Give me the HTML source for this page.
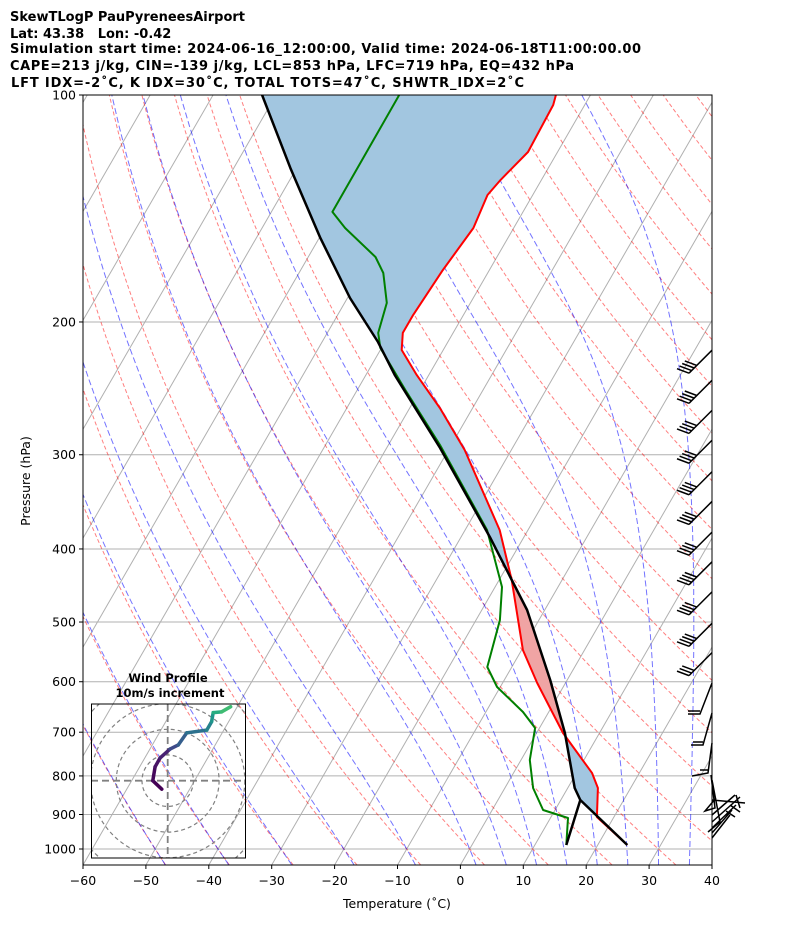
<!DOCTYPE html>
<html><head><meta charset="utf-8"><style>
body{margin:0;background:#fff;}
svg{display:block;font-family:"DejaVu Sans","Liberation Sans",sans-serif;}
</style></head><body>
<svg id="chart" width="794" height="937" viewBox="0 0 794 937" xmlns="http://www.w3.org/2000/svg">
<defs><clipPath id="clip"><rect x="83" y="95" width="629" height="770"/></clipPath>
<clipPath id="hclip"><rect x="91.5" y="704" width="154" height="154"/></clipPath></defs>
<g font-weight="bold" font-size="13" fill="#000">
<text x="10" y="21">SkewTLogP PauPyreneesAirport</text>
<text x="10" y="38" xml:space="preserve">Lat: 43.38   Lon: -0.42</text>
<text x="10" y="53" textLength="631">Simulation start time: 2024-06-16_12:00:00, Valid time: 2024-06-18T11:00:00.00</text>
<text x="10" y="70" textLength="564">CAPE=213 j/kg, CIN=-139 j/kg, LCL=853 hPa, LFC=719 hPa, EQ=432 hPa</text>
<text x="11" y="87" textLength="513">LFT IDX=-2˚C, K IDX=30˚C, TOTAL TOTS=47˚C, SHWTR_IDX=2˚C</text>
</g>
<g id="plot" clip-path="url(#clip)"></g>
<g id="axes"></g>
<g id="barbs"></g>
<g id="hodo"></g>
</svg>
<script>
// ---- data ----
const tempP = [987.9,907,830.1,793,701.8,602.3,544.6,439.8,413.7,377.6,295.7,260.1,235.2,217.9,206.8,195.7,170.7,150.1,135.7,129.6,119,103.1,100];
const tempT = [24.7,17.3,14.8,12.5,4.2,-4.5,-9.8,-18.0,-20.6,-24.5,-37.4,-45.2,-51.9,-56.6,-58.0,-58.0,-57.4,-56.4,-57.2,-56.5,-54.7,-55.0,-55.5];
const dewP = [987.9,909.8,887.8,830.1,762.1,691.1,658.1,609.7,573.6,497,449.3,377.6,291.2,246,216.5,206.8,188.7,172.2,164,150.1,142.9,100];
const dewT = [15.0,12.8,8.1,4.5,1.4,-0.7,-4.1,-10.5,-13.9,-16.2,-18.9,-26.5,-41.8,-52.4,-60.2,-61.9,-63.3,-66.6,-69.3,-76.8,-80.3,-80.4];
const parcelP = [987.9,861,830.1,701.8,596.9,482,385.8,293.9,235.2,212.6,185.9,154.8,125,100];
const parcelT = [24.7,13.1,11.1,4.5,-2.7,-12.8,-25.4,-41.5,-55.4,-61.1,-69.6,-79.8,-91.0,-102.2];
const pTicks = [100,200,300,400,500,600,700,800,900,1000];
const tTicks = [-60,-50,-40,-30,-20,-10,0,10,20,30,40];
const dryTheta = [-50,-40,-30,-20,-10,0,10,20,30,40,50,60,70,80,90,100,110,120,130,140,150,160,170,180,190,200];
const moistT0 = [-50,-40,-30,-20,-10,0,5,10,15,20,25,30,35,40,45];
const barbP = [218,239,262,287,316,346,380,416,456,502,549];
const barbN = [4,4,4,4,4,4,4,4,4,4,3];
const hodoU = [-2.3,-5.8,-4.9,-3.0,0.9,4.1,7.4,15.2,17.1,17.7,21,24.5];
const hodoV = [-3.3,0,5.4,8.8,12.3,13.9,18.6,19.7,23,26.5,26.8,28.8];

const NS="http://www.w3.org/2000/svg";
const Y = p => 95 + 754*(Math.log10(p)-2);
const X = (T,p) => 83 + (T+60)*6.29 + (865-Y(p))*0.57735;
function mk(tag, attrs, parent){const e=document.createElementNS(NS,tag);for(const k in attrs)e.setAttribute(k,attrs[k]);parent.appendChild(e);return e;}
const plot=document.getElementById('plot'), axes=document.getElementById('axes');
const pathOf = pts => 'M'+pts.map(q=>q[0].toFixed(1)+','+q[1].toFixed(1)).join('L');
const pLevels=[];for(let i=0;i<=80;i++)pLevels.push(1050*Math.pow(100/1050,i/80));

for(let T=-160;T<=40;T+=10){
  const e=mk('line',{x1:X(T,1050),y1:Y(1050),x2:X(T,100),y2:Y(100),stroke:'#b0b0b0','stroke-width':1},plot);
  
  
}
pTicks.forEach(p=>{
  const e=mk('line',{x1:83,x2:712,y1:Y(p),y2:Y(p),stroke:'#b0b0b0','stroke-width':1},plot);
  
  
});
dryTheta.forEach(th=>{
  const pts=pLevels.map(p=>[X((th+273.15)*Math.pow(p/1000,0.2857)-273.15,p),Y(p)]);
  const e=mk('path',{d:pathOf(pts),fill:'none',stroke:'#ff0000','stroke-opacity':0.5,'stroke-width':1,'stroke-dasharray':'4,2.5'},plot);
  
  
});
function moistSlope(T,p){const Tc=T-273.15;const es=6.112*Math.exp(17.67*Tc/(Tc+243.5));const rs=0.622*es/(p-es);
  return (287*T+2.501e6*rs)/(1005+2.501e6*2.501e6*rs*0.622/(287*T*T))/p;}
function moistProfile(t0){
  let T=t0+273.15,p=1000;const dp=-2;
  const up=[[p,T]];while(p>100){T+=moistSlope(T,p)*dp;p+=dp;up.push([p,T]);}
  T=t0+273.15;p=1000;const dn=[];while(p<1050){T+=moistSlope(T,p)*2;p+=2;dn.unshift([p,T]);}
  return dn.concat(up);
}
moistT0.forEach(t0=>{
  const pts=moistProfile(t0).filter((q,i)=>i%5==0).map(q=>[X(q[1]-273.15,q[0]),Y(q[0])]);
  const e=mk('path',{d:pathOf(pts),fill:'none',stroke:'#0000ff','stroke-opacity':0.55,'stroke-width':1,'stroke-dasharray':'6,3'},plot);
  
  
});
function interp(P,T,p){
  for(let i=0;i<P.length-1;i++){
    if(p<=P[i]&&p>=P[i+1]){const f=(Math.log(P[i])-Math.log(p))/(Math.log(P[i])-Math.log(P[i+1]));return T[i]+f*(T[i+1]-T[i]);}
  }
  return null;
}
const fp=[];for(let i=0;i<=400;i++)fp.push(987.9*Math.pow(100/987.9,i/400));
for(let i=0;i<fp.length-1;i++){
  const a=fp[i],b=fp[i+1];
  const ta=interp(tempP,tempT,a),tb=interp(tempP,tempT,b),pa=interp(parcelP,parcelT,a),pb=interp(parcelP,parcelT,b);
  if(ta==null||tb==null||pa==null||pb==null)continue;
  const pos=(pa+pb-ta-tb)>0;
  const c=pos?'#f0a4a4':'#a2c6e0';
  const e=mk('polygon',{points:[[X(ta,a),Y(a)],[X(tb,b),Y(b)],[X(pb,b),Y(b)],[X(pa,a),Y(a)]].map(q=>q.join(',')).join(' '),
    fill:c,stroke:c,'stroke-width':0.6},plot);
  
  
}
function profile(P,T,color,w,name){
  const e=mk('path',{d:pathOf(P.map((p,i)=>[X(T[i],p),Y(p)])),fill:'none',stroke:color,'stroke-width':w,'stroke-linejoin':'round'},plot);
  
  
}
profile(tempP,tempT,'#ff0000',2,'temperature-line');
profile(dewP,dewT,'#008000',2,'dewpoint-line');
profile(parcelP,parcelT,'#000000',2.5,'parcel-line');
{const e=mk('path',{d:pathOf([[X(dewT[0],dewP[0]),Y(dewP[0])],[X(parcelT[1],parcelP[1]),Y(parcelP[1])]]),fill:'none',stroke:'#000','stroke-width':2.5},plot);

}

{const e=mk('rect',{x:83,y:95,width:629,height:770,fill:'none',stroke:'#000','stroke-width':1},axes);

}
pTicks.forEach(p=>{
  mk('line',{x1:79,x2:83,y1:Y(p),y2:Y(p),stroke:'#000'},axes);
  const t=mk('text',{x:76,y:Y(p)+4.5,'text-anchor':'end','font-size':12.5},axes);t.textContent=p;
  
  
});
tTicks.forEach(T=>{
  const x=83+(T+60)*6.29;
  mk('line',{x1:x,x2:x,y1:865,y2:869,stroke:'#000'},axes);
  const t=mk('text',{x:x,y:885,'text-anchor':'middle','font-size':12.5},axes);t.textContent=(T<0?'\u2212'+(-T):T);
  
  
});
{const t=mk('text',{x:397,y:908,'text-anchor':'middle','font-size':12.5},axes);t.textContent='Temperature (˚C)';


const t2=mk('text',{x:30,y:481,'text-anchor':'middle','font-size':12.5,transform:'rotate(-90 30 481)'},axes);t2.textContent='Pressure (hPa)';

}

const bg=document.getElementById('barbs');
barbP.forEach((p,i)=>{
  const y=Y(p);const x0=712,y0=y, x1=689,y1=y+23;
  const g=mk('g',{stroke:'#000','stroke-width':1.5,fill:'none'},bg);
  
  
  mk('line',{x1:x0,y1:y0,x2:x1,y2:y1},g);
  for(let k=0;k<barbN[i];k++){const bx=x1+k*2.6,by=y1-k*2.6;mk('line',{x1:bx,y1:by,x2:bx-12,y2:by-4.5},g);}
});
{const g=mk('g',{stroke:'#000','stroke-width':1.5,fill:'none'},bg);


mk('path',{d:'M712,683 L700,714 L688,714 M700,711 L688,711 M712,713 L703,745 L691,745 M703,742 L693,742 M712,743 L708,773 L692,776 M708,770 L700,770 M711,775 L715,808 L705,811 L716,798 M712,780 L720,822 L708,832 M712,800 L745,803 M712,815 L735,795 M712,822 L740,797 M712,828 L736,805 M712,833 L732,810 M712,838 L730,815 M736,795 L740,808 M730,805 L740,812 M726,811 L735,817'},g);}

const hg=document.getElementById('hodo');
{const t=mk('text',{x:168,y:682,'text-anchor':'middle','font-size':11.5,'font-weight':'bold'},hg);t.textContent='Wind Profile';


const t2=mk('text',{x:170,y:697,'text-anchor':'middle','font-size':11.5,'font-weight':'bold'},hg);t2.textContent='10m/s increment';

}
const hc=mk('g',{'clip-path':'url(#hclip)'},hg);
const cx=167.7,cy=780.7,sc=2.57;
[10,20,30,40].forEach(r=>{const e=mk('circle',{cx:cx,cy:cy,r:r*sc,fill:'none',stroke:'#808080','stroke-width':1.2,'stroke-dasharray':'4,3'},hc);

});
mk('line',{x1:91,x2:246,y1:cy,y2:cy,stroke:'#808080','stroke-width':1.8,'stroke-dasharray':'7,4'},hc);
mk('line',{x1:cx,x2:cx,y1:704,y2:858,stroke:'#808080','stroke-width':1.8,'stroke-dasharray':'7,4'},hc);
const vir=['#440154','#46085c','#471365','#482173','#3e4a89','#355f8d','#2c718e','#25838e','#1f968b','#27ad81','#3fbc73','#6ccd5a'];
for(let i=0;i<hodoU.length-1;i++){
  const e=mk('line',{x1:cx+hodoU[i]*sc,y1:cy-hodoV[i]*sc,x2:cx+hodoU[i+1]*sc,y2:cy-hodoV[i+1]*sc,stroke:vir[i],'stroke-width':3.5,'stroke-linecap':'round'},hc);
  
  
}
{const e=mk('rect',{x:91.5,y:704,width:154,height:154,fill:'none',stroke:'#000','stroke-width':1},hg);

}
</script>
</body></html>
